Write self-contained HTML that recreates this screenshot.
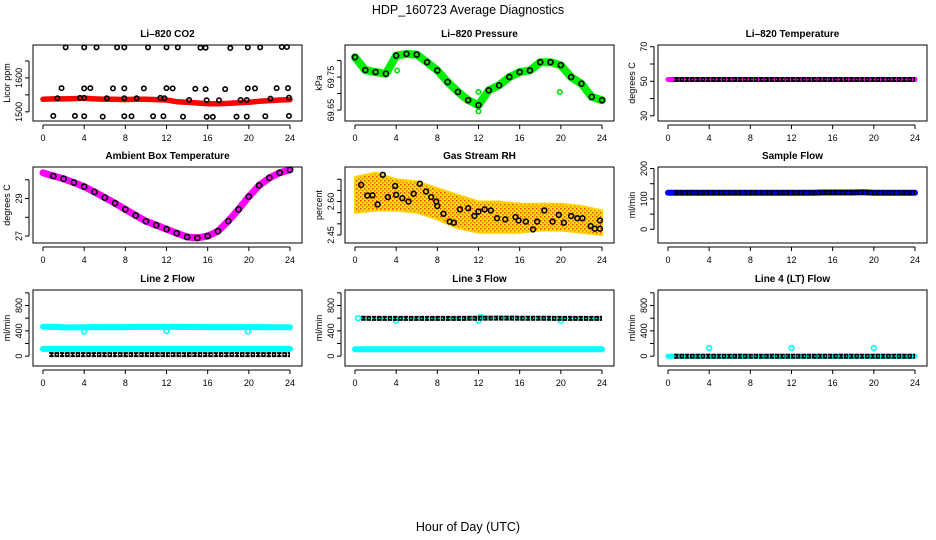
<!DOCTYPE html>
<html><head><meta charset="utf-8"><style>
html,body{margin:0;padding:0;background:#fff;}
svg{display:block;font-family:"Liberation Sans",sans-serif;}
</style></head><body>
<svg id="c" width="936" height="540" viewBox="0 0 936 540" xmlns="http://www.w3.org/2000/svg">
<defs>
<pattern id="rhpat" width="4" height="4" patternUnits="userSpaceOnUse">
<rect width="4" height="4" fill="#ffe000"/><rect width="1.5" height="1.5" fill="#f04000"/><rect x="2" y="2" width="1.5" height="1.5" fill="#f07000"/>
</pattern>
</defs>
<text x="468" y="14" font-size="12.5" text-anchor="middle">HDP_160723  Average Diagnostics</text>
<text x="468" y="531" font-size="12.5" text-anchor="middle">Hour of Day (UTC)</text>
</svg>
<script>
// ---- data ----
const hours = [0,1,2,3,4,5,6,7,8,9,10,11,12,13,14,15,16,17,18,19,20,21,22,23,24];
const xTicks = [0,4,8,12,16,20,24];

const co2Red = [1537,1538,1538,1539,1540,1538,1537,1537,1536,1537,1537,1536,1535,1530,1528,1526,1524,1524,1525,1527,1528,1531,1533,1535,1536];
const co2TopH = [2.2,4.0,5.2,7.2,7.9,10.2,12.0,13.1,15.3,15.8,18.2,19.9,21.1,23.2,23.7];
const co2TopV = [1690,1690,1690,1690,1690,1690,1690,1690,1689,1689,1688,1690,1690,1691,1691];
const co2MidH = [1.8,4.0,4.6,6.8,7.9,9.8,12.0,12.6,14.8,15.8,17.7,19.9,20.6,22.7,23.8];
const co2MidV = [1570,1569,1570,1569,1569,1569,1570,1569,1568,1567,1567,1569,1569,1570,1570];
const co2LowH = [1.4,3.6,4.0,6.2,7.9,9.1,11.4,11.8,14.2,15.9,17.1,19.2,19.8,22.1,23.9];
const co2LowV = [1540,1541,1541,1540,1540,1540,1541,1540,1535,1534,1534,1535,1535,1539,1542];
const co2BotH = [1.0,3.1,4.0,5.8,7.9,8.6,10.7,11.7,13.6,15.9,16.5,18.8,19.8,21.6,23.9];
const co2BotV = [1488,1488,1487,1486,1487,1487,1487,1487,1486,1485,1485,1486,1486,1487,1488];

const presV = [69.81,69.771,69.765,69.76,69.815,69.82,69.818,69.795,69.77,69.735,69.705,69.68,69.665,69.71,69.725,69.75,69.765,69.77,69.795,69.795,69.786,69.75,69.73,69.69,69.68];
const presOutH = [4.1,12.0,12.0,19.9];
const presOutV = [69.77,69.646,69.705,69.705];

const li820T = [51,51,51,51,51,51,51,51,51,51,51,51,51,51,51,51,51,51,51,51,51,51,51,51,51];

const ambT = [30.37,30.2,30.05,29.85,29.63,29.35,29.05,28.75,28.42,28.1,27.79,27.58,27.37,27.15,26.95,26.9,27.0,27.26,27.8,28.42,29.1,29.7,30.1,30.37,30.53];

const rhBandH = [0,2,4,6,8,10,12,14,16,18,20,22,24];
const rhUpper = [2.71,2.73,2.70,2.69,2.66,2.63,2.60,2.60,2.59,2.59,2.59,2.58,2.56];
const rhLower = [2.55,2.56,2.56,2.55,2.52,2.48,2.46,2.46,2.46,2.47,2.47,2.46,2.45];
const rhPtH = [0.6,1.2,1.7,2.2,2.7,3.2,3.9,4.0,4.6,5.2,5.7,6.3,6.9,7.4,7.9,8.0,8.6,9.2,9.6,10.2,11.0,11.6,12.0,12.6,13.2,13.8,14.6,15.6,15.9,16.6,17.3,17.7,18.4,19.2,19.8,20.3,21.0,21.6,22.1,22.9,23.3,23.8,23.8];
const rhPtV = [2.675,2.627,2.628,2.587,2.72,2.62,2.67,2.63,2.615,2.60,2.635,2.68,2.645,2.62,2.60,2.58,2.545,2.51,2.505,2.565,2.57,2.535,2.555,2.565,2.56,2.525,2.52,2.53,2.515,2.51,2.475,2.51,2.56,2.51,2.54,2.505,2.535,2.525,2.525,2.49,2.478,2.515,2.478];

const sampFlow = [120,120,120,120,120,120,120,120,120,120,120,120,120,120,120,121,121,121,121,122,120,120,120,120,120];

const l2Upper = [465,462,455,455,458,460,460,460,460,462,462,462,462,462,461,461,460,460,460,460,460,460,458,458,458];
const l2Lower = [115,115,115,115,115,115,115,115,115,115,115,115,115,115,115,115,115,115,115,115,115,115,115,115,115];
const l2Black = [25,25,25,25,25,25,25,25,25,25,25,25,25,25,25,25,25,25,25,25,25,25,25,25,25];
const l2OutH = [4.0,12.0,19.9];
const l2OutV = [390,395,390];

const l3Black = [600,598,597,597,596,596,596,596,597,597,597,598,600,602,602,602,600,600,600,598,596,596,596,597,597];
const l3Cyan = [108,108,108,108,108,108,108,108,108,108,108,108,108,108,108,108,108,108,108,108,108,108,108,108,108];
const l3OutH = [0.3,4.0,12.0,12.2,20.0];
const l3OutV = [600,560,560,620,560];

const l4Black = [0,0,0,0,0,0,0,0,0,0,0,0,0,0,0,0,0,0,0,0,0,0,0,0,0];
const l4OutH = [4.0,12.0,20.0];
const l4OutV = [130,130,130];

// ---- drawing ----
const svg = document.getElementById('c');
const NS = 'http://www.w3.org/2000/svg';
const colL = [33,345,658], rowT = [45,167,290], PW = 269, PH = 76;
function mk(tag, attrs, parent){const e=document.createElementNS(NS,tag);for(const k in attrs)e.setAttribute(k,attrs[k]);(parent||svg).appendChild(e);return e;}

function panel(col,row,title,ylab,yMin,yMax,yTicks,yLabels,name){
  const L=colL[col],T=rowT[row];
  const g=mk('g',{});
  
  
  const xs=h=>L+10+h*(247/24);
  const ys=v=>T+PH-(v-yMin)/(yMax-yMin)*PH;
  const t=mk('text',{x:L+PW/2,y:T-8,'font-size':'10','font-weight':'bold','text-anchor':'middle'},g);
  t.textContent=title;
  
  
  const yl=mk('text',{x:0,y:0,'font-size':'9','text-anchor':'middle',transform:`translate(${L-23},${T+PH/2}) rotate(-90)`},g);
  yl.textContent=ylab;
  
  
  const xa=mk('g',{},g);
  
  
  mk('line',{x1:xs(xTicks[0]),x2:xs(xTicks[xTicks.length-1]),y1:T+PH+4,y2:T+PH+4,stroke:'#000','stroke-width':1},xa);
  xTicks.forEach(h=>{
    mk('line',{x1:xs(h),x2:xs(h),y1:T+PH+4,y2:T+PH+8,stroke:'#000','stroke-width':1},xa);
    const tx=mk('text',{x:xs(h),y:T+PH+20,'font-size':'9','text-anchor':'middle'},xa);tx.textContent=h;
  });
  const ya=mk('g',{},g);
  
  
  mk('line',{x1:L-4,x2:L-4,y1:ys(yTicks[0]),y2:ys(yTicks[yTicks.length-1]),stroke:'#000','stroke-width':1},ya);
  yTicks.forEach((v,i)=>{
    mk('line',{x1:L-8,x2:L-4,y1:ys(v),y2:ys(v),stroke:'#000','stroke-width':1},ya);
    if(yLabels[i]!==''){const ty=mk('text',{x:0,y:0,'font-size':'9','text-anchor':'middle',transform:`translate(${L-11},${ys(v)}) rotate(-90)`},ya);ty.textContent=yLabels[i];}
  });
  const plot=mk('g',{},g);
  
  
  return {g:plot,xs,ys,L,T,box:()=>{const b=mk('rect',{x:L,y:T,width:PW,height:PH,fill:'none',stroke:'#000','stroke-width':1},g);}};
}
function pathOf(p,hs,vs){return hs.map((h,i)=>(i?'L':'M')+p.xs(h).toFixed(1)+','+p.ys(vs[i]).toFixed(1)).join(' ');}
function band(p,hs,vs,color,w,name){
  const e=mk('path',{d:pathOf(p,hs,vs),fill:'none',stroke:color,'stroke-width':w,'stroke-linejoin':'round','stroke-linecap':'round'},p.g);
  
  
}
function ringBand(p,hs,vs,inner,name){
  const g=mk('g',{},p.g);
  
  
  const h0=hs.slice(), v0=vs.slice(); h0[0]=0.6;
  mk('path',{d:pathOf(p,h0,v0),fill:'none',stroke:'#000','stroke-width':5,'stroke-dasharray':'4.5 0.8'},g);
  mk('path',{d:pathOf(p,h0,v0),fill:'none',stroke:inner,'stroke-width':1.3,'stroke-dasharray':'1.5 2'},g);
}
function pts(p,hs,vs,color,r,name){
  const g=mk('g',{},p.g);
  
  
  hs.forEach((h,i)=>{mk('circle',{cx:p.xs(h),cy:p.ys(vs[i]),r:r||2.2,fill:'none',stroke:color,'stroke-width':1.6},g);});
}

let p=panel(0,0,'Li\u2013820 CO2','Licor ppm',1473,1697,[1500,1550,1600,1650],['1500','','1600',''],'co2');
band(p,hours,co2Red,'#ff0000',5.5,'co2-red-series');
pts(p,co2TopH,co2TopV,'#000',2.2,'co2-high-points');
pts(p,co2MidH,co2MidV,'#000',2.2,'co2-mid-points');
pts(p,co2LowH,co2LowV,'#000',2.2,'co2-band-points');
pts(p,co2BotH,co2BotV,'#000',2.2,'co2-low-points');
p.box();

p=panel(1,0,'Li\u2013820 Pressure','kPa',69.617,69.847,[69.65,69.70,69.75,69.80],['69.65','','69.75',''],'pressure');
band(p,hours,presV,'#00ee00',8,'pressure-green-series');
pts(p,hours,presV,'#000',2.5,'pressure-black-points');
pts(p,presOutH,presOutV,'#00dd00',2.2,'pressure-outliers');
p.box();

p=panel(2,0,'Li\u2013820 Temperature','degrees C',27,71,[30,40,50,60,70],['30','','50','','70'],'li820-temp');
band(p,hours,li820T,'#ff00ff',5,'li820-temp-magenta-series');
ringBand(p,hours,li820T,'#ff00ff','li820-temp-black-series');
p.box();

p=panel(0,1,'Ambient Box Temperature','degrees C',26.63,30.68,[27,28,29,30],['27','','29',''],'ambient-temp');
band(p,hours,ambT,'#ff00ff',7,'ambient-temp-magenta-series');
pts(p,hours.slice(1),ambT.slice(1),'#000',2.6,'ambient-temp-black-points');
p.box();

p=panel(1,1,'Gas Stream RH','percent',2.414,2.755,[2.45,2.50,2.55,2.60,2.65,2.70],['2.45','','','2.60','',''],'gas-rh');
{
  const up=rhBandH.map((h,i)=>p.xs(h).toFixed(1)+','+p.ys(rhUpper[i]).toFixed(1));
  const lo=rhBandH.map((h,i)=>p.xs(h).toFixed(1)+','+p.ys(rhLower[i]).toFixed(1)).reverse();
  const e=mk('polygon',{points:up.concat(lo).join(' '),fill:'url(#rhpat)',stroke:'#ffd000','stroke-width':2,'stroke-linejoin':'round'},p.g);
  
  
}
pts(p,rhPtH,rhPtV,'#000',2.4,'gas-rh-black-points');
p.box();

p=panel(2,1,'Sample Flow','ml/min',-45,205,[0,50,100,150,200],['0','','100','','200'],'sample-flow');
band(p,hours,sampFlow,'#0000ff',6,'sample-flow-blue-series');
ringBand(p,hours,sampFlow,'#0000ff','sample-flow-black-series');
p.box();

p=panel(0,2,'Line 2 Flow','ml/min',-155,1045,[0,200,400,600,800,1000],['0','','400','','800',''],'line2-flow');
band(p,hours,l2Upper,'#00ffff',6,'line2-upper-cyan-series');
band(p,hours,l2Lower,'#00ffff',6,'line2-lower-cyan-series');
ringBand(p,hours,l2Black,'#ffffff','line2-black-series');
pts(p,l2OutH,l2OutV,'#00ffff',2.4,'line2-outliers');
p.box();

p=panel(1,2,'Line 3 Flow','ml/min',-155,1045,[0,200,400,600,800,1000],['0','','400','','800',''],'line3-flow');
band(p,hours,l3Cyan,'#00ffff',6,'line3-cyan-series');
pts(p,l3OutH,l3OutV,'#00ffff',2.4,'line3-outliers');
ringBand(p,hours,l3Black,'#00ffff','line3-black-series');
p.box();

p=panel(2,2,'Line 4 (LT) Flow','ml/min',-155,1045,[0,200,400,600,800,1000],['0','','400','','800',''],'line4-flow');
band(p,hours,l4Black,'#00ffff',5,'line4-cyan-series');
ringBand(p,hours,l4Black,'#00ffff','line4-black-series');
pts(p,l4OutH,l4OutV,'#00ffff',2.4,'line4-outliers');
p.box();
</script>
</body></html>
